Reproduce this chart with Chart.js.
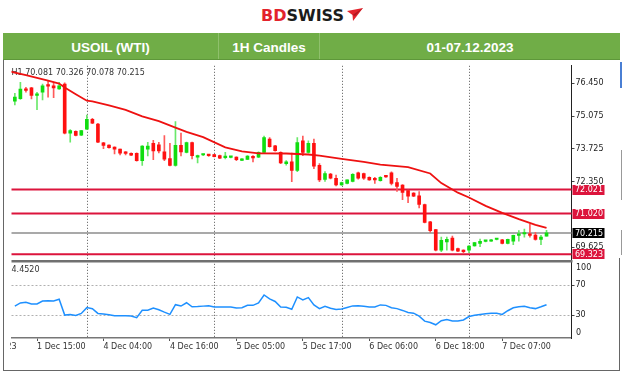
<!DOCTYPE html>
<html>
<head>
<meta charset="utf-8">
<script src="https://cdn.jsdelivr.net/npm/chart.js@4.4.1/dist/chart.umd.min.js"></script>
<style>
  html, body { margin: 0; padding: 0; background: #fff; }
  body { width: 624px; height: 372px; position: relative; overflow: hidden; font-family: "Liberation Sans", Arial, sans-serif; }
  #logo { position: absolute; left: 261px; top: 6px; height: 19px; line-height: 19px; font: bold 16px "DejaVu Sans", sans-serif; white-space: nowrap; }
  #logo .bd { color: #e3232c; }
  #logo .sw { color: #1b1b1b; }
  #logo svg { position: absolute; left: 86px; top: 2px; }
  #bar { position: absolute; left: 3px; top: 33px; width: 617px; height: 26px; background: #70ad47; border-bottom: 1px solid #5e973a; }
  .cell { position: absolute; top: 0; height: 26px; padding-top: 2px; box-sizing: border-box; line-height: 26px; text-align: center; color: #fff; font-weight: bold; font-size: 13.5px; white-space: nowrap; }
  .mid { border-left: 1px solid #8fc06c; border-right: 1px solid #8fc06c; }
  #wrap { position: absolute; left: 10px; top: 60px; width: 614px; height: 300px; overflow: hidden; }
  #wrap canvas { position: absolute; left: -10px; top: 0; }
  .ln { position: absolute; background: #666; }
</style>
</head>
<body>
<div id="logo"><span class="bd">BD</span><span class="sw">SWISS</span><svg width="16" height="14" viewBox="0 0 16 14"><polygon points="0,3 16,0 6,13 5.5,7" fill="#e3232c"/><polygon points="5.5,7 16,0 8,8" fill="#b01820"/></svg></div>
<div id="bar">
  <div class="cell" style="left:0;width:215px">USOIL (WTI)</div>
  <div class="cell mid" style="left:215px;width:102px">1H Candles</div>
  <div class="cell" style="left:317px;width:300px">01-07.12.2023</div>
</div>
<div id="wrap"><canvas id="chart" width="624" height="300"></canvas></div>
<div class="ln" style="left:3px;top:60px;width:1px;height:311px"></div>
<div class="ln" style="left:3px;top:370px;width:617px;height:1px"></div>
<div class="ln" style="left:619px;top:258px;width:1px;height:113px"></div>
<div class="ln" style="left:620px;top:62px;width:2px;height:26px;background:#4a7fd4"></div>
<div class="ln" style="left:621px;top:150px;width:1px;height:50px;background:#999"></div>
<div class="ln" style="left:621px;top:230px;width:1px;height:25px;background:#999"></div>
<script>
// hourly bars, index 0 = 1 Dec 15:00
const firstBar = -4;
const openP = [75.70, 75.80, 76.19, 76.25, 75.94, 76.07, 76.39, 76.34, 76.21,
  76.41, 74.37, 74.44, 74.28, 74.53, 74.94, 74.75, 73.96, 73.87, 73.79,
  73.70, 73.59, 73.53, 73.53, 73.22, 73.70, 73.94, 73.88, 73.59, 73.31,
  73.02, 73.86, 73.57, 73.98, 73.37, 73.46, 73.44, 73.48, 73.43, 73.35,
  73.36, 73.37, 73.23, 73.27, 73.39, 73.37, 73.57, 74.12, 73.84, 73.57,
  73.10, 73.17, 72.82, 74.05, 73.57, 73.94, 73.03, 72.44, 72.66, 72.49,
  72.21, 72.28, 72.36, 72.72, 72.69, 72.53, 72.43, 72.39, 72.57, 72.72,
  72.31, 72.21, 71.98, 71.87, 71.76, 71.40, 70.68, 70.35, 69.50, 69.84,
  70.00, 69.56, 69.50, 69.50, 69.67, 69.78, 69.865, 69.87, 69.94, 69.93,
  69.78, 69.87, 70.11, 70.17, 70.17, 70.13, 69.95, 70.081];
const highP = [76.03, 76.48, 76.27, 76.27, 76.07, 76.41, 76.57, 76.48, 76.48,
  76.46, 74.52, 74.46, 74.49, 75.12, 74.98, 74.78, 73.99, 73.88, 73.80,
  73.71, 73.60, 73.55, 73.55, 73.85, 73.99, 74.07, 73.99, 74.27, 73.94,
  74.85, 74.37, 74.00, 74.00, 73.45, 73.50, 73.47, 73.49, 73.45, 73.57,
  73.40, 73.38, 73.31, 73.43, 73.43, 73.59, 74.25, 74.18, 73.86, 73.59,
  73.23, 73.54, 74.18, 74.25, 74.05, 74.12, 73.10, 72.77, 72.70, 72.62,
  72.33, 72.43, 72.68, 72.75, 72.71, 72.55, 72.53, 72.56, 72.60, 72.76,
  72.49, 72.23, 72.00, 71.89, 71.94, 71.42, 70.70, 70.37, 70.04, 70.04,
  70.08, 69.58, 69.51, 69.69, 69.82, 69.96, 69.90, 69.95, 69.97, 69.95,
  69.96, 70.13, 70.31, 70.38, 70.58, 70.24, 70.12, 70.326];
const lowP = [75.54, 75.77, 76.07, 75.79, 75.34, 75.75, 75.87, 75.84, 76.19,
  74.34, 73.99, 74.25, 74.26, 74.52, 74.76, 73.97, 73.72, 73.74, 73.50,
  73.46, 73.46, 73.43, 73.20, 73.02, 73.42, 73.26, 73.54, 73.22, 73.00,
  72.99, 73.42, 73.55, 73.30, 73.13, 73.43, 73.40, 73.38, 73.31, 73.30,
  73.34, 73.22, 73.22, 73.26, 73.17, 73.35, 73.53, 73.78, 73.62, 73.10,
  73.03, 72.35, 72.76, 73.43, 73.53, 72.89, 72.35, 72.36, 72.46, 72.17,
  72.19, 72.26, 72.34, 72.45, 72.44, 72.40, 72.28, 72.37, 72.53, 72.21,
  71.94, 71.60, 71.47, 71.72, 71.26, 70.63, 70.24, 69.47, 69.43, 69.50,
  69.47, 69.44, 69.36, 69.39, 69.66, 69.64, 69.84, 69.86, 69.92, 69.76,
  69.76, 69.73, 69.87, 70.04, 70.04, 69.91, 69.73, 70.078];
const closeP = [75.87, 76.20, 76.15, 75.94, 76.00, 76.34, 76.32, 76.25, 76.34,
  74.37, 74.47, 74.27, 74.47, 74.94, 74.78, 73.99, 73.86, 73.76, 73.70,
  73.53, 73.52, 73.45, 73.22, 73.83, 73.83, 73.63, 73.63, 73.29, 73.02,
  73.86, 73.59, 73.98, 73.43, 73.43, 73.47, 73.43, 73.39, 73.33, 73.41,
  73.37, 73.26, 73.30, 73.41, 73.34, 73.57, 74.18, 73.80, 73.64, 73.13,
  73.17, 72.82, 73.98, 73.57, 73.94, 72.99, 72.42, 72.69, 72.49, 72.21,
  72.31, 72.42, 72.65, 72.49, 72.49, 72.42, 72.42, 72.53, 72.55, 72.28,
  72.15, 71.90, 71.74, 71.74, 71.40, 70.65, 70.31, 69.50, 69.91, 69.95,
  69.50, 69.46, 69.43, 69.67, 69.81, 69.87, 69.875, 69.93, 69.95, 69.78,
  69.95, 70.11, 70.17, 70.18, 70.11, 69.95, 70.04, 70.215];

// moving average, read at these bars
const maBars = [-5, -2, 2, 4, 5, 7, 9, 10, 13, 16, 19, 22, 25, 27, 30, 34, 37, 40, 45, 49, 51, 55, 59, 62, 67, 71, 73, 76, 78, 81, 84, 87, 90, 92];
const maValues = [76.94, 76.78, 76.55, 76.43, 76.27, 75.99, 75.72, 75.69, 75.52, 75.34, 75.07, 74.87, 74.60, 74.42, 74.20, 73.78, 73.61, 73.53, 73.52, 73.48, 73.43, 73.30, 73.17, 73.06, 72.95, 72.69, 72.29, 71.89, 71.69, 71.34, 71.05, 70.79, 70.55, 70.43];

const rsiValues = [42.3, 46.5, 47.5, 45.2, 45.2, 49.1, 49.4, 49.1, 51.4,
  30.4, 31.3, 30.0, 32.6, 40.3, 38.8, 32.6, 31.7, 30.8, 29.5,
  29.5, 29.5, 29.1, 26.9, 36.8, 36.8, 39.8, 37.5, 34.3, 31.3,
  44.2, 42.4, 46.8, 41.4, 41.7, 42.3, 42.9, 41.1, 41.1, 41.1,
  41.1, 39.8, 40.1, 43.3, 43.3, 46.5, 57.1, 51.9, 48.5, 41.1,
  40.7, 38.1, 54.5, 50.6, 53.6, 43.9, 39.0, 42.0, 39.4, 37.7,
  38.4, 40.5, 42.6, 42.9, 42.0, 41.1, 41.1, 43.9, 43.3, 40.1,
  39.0, 36.6, 33.9, 33.0, 29.1, 22.4, 20.5, 17.5, 23.0, 24.6,
  22.6, 22.6, 23.9, 28.5, 30.1, 31.3, 32.1, 33.0, 32.7, 31.3,
  36.2, 40.1, 41.4, 42.0, 40.1, 39.0, 41.4, 44.2];

const tickBars = [-12, 0, 12, 24, 36, 48, 60, 72, 84];
const tickLabels = ['1 Dec 2023', '1 Dec 15:00', '4 Dec 04:00', '4 Dec 16:00', '5 Dec 05:00', '5 Dec 17:00', '6 Dec 06:00', '6 Dec 18:00', '7 Dec 07:00'];
const daySepBars = [9, 32, 55, 78];
const priceTicks = [69.625, 72.350, 73.725, 75.075, 76.450];
const rsiTicks = [30, 70];
const levels = [72.021, 71.020, 69.323];
const bidPrice = 70.215;
const infoText = 'H1 70.081 70.326 70.078 70.215';
const rsiText = '4.4520';

const RED = '#ff1010', GREEN = '#10dd10';
const bars = openP.map((o, k) => firstBar + k);
const up = openP.map((o, k) => closeP[k] >= o);
const bodies = bars.map((b, k) => ({ x: b, y: [openP[k], closeP[k]] }));
const wicks = bars.map((b, k) => ({ x: b, y: [lowP[k], highP[k]] }));
const maLine = maBars.map((b, k) => ({ x: b, y: maValues[k] }));
const rsiLine = bars.map((b, k) => ({ x: b, y: rsiValues[k] }));

const FONT = { family: 'DejaVu Sans', size: 8 };

const decor = {
  id: 'decor',
  beforeDatasetsDraw(chart) {
    const { ctx, chartArea: a, scales: { x, y, y2 } } = chart;
    ctx.save();
    ctx.strokeStyle = '#555';
    ctx.lineWidth = 1;
    ctx.setLineDash([1, 2]);
    daySepBars.forEach(b => {
      const px = Math.round(x.getPixelForValue(b)) + 0.5;
      ctx.beginPath(); ctx.moveTo(px, a.top); ctx.lineTo(px, a.bottom); ctx.stroke();
    });
    ctx.setLineDash([]);
    ctx.strokeStyle = '#dc143c';
    ctx.lineWidth = 2;
    levels.forEach(v => {
      const py = y.getPixelForValue(v);
      ctx.beginPath(); ctx.moveTo(a.left, py); ctx.lineTo(a.right, py); ctx.stroke();
    });
    ctx.strokeStyle = '#8c8c8c';
    ctx.lineWidth = 1.5;
    const by = y.getPixelForValue(bidPrice);
    ctx.beginPath(); ctx.moveTo(a.left, by); ctx.lineTo(a.right, by); ctx.stroke();
    ctx.fillStyle = '#333';
    ctx.font = '8px "DejaVu Sans"';
    ctx.textBaseline = 'middle';
    ctx.fillText(infoText, a.left, y.top + 7);
    ctx.fillText(rsiText, a.left, y2.top + 8.5);
    ctx.restore();
  },
  afterDraw(chart) {
    const { ctx, chartArea: a, scales: { y, y2 } } = chart;
    ctx.save();
    ctx.strokeStyle = '#707070';
    ctx.lineWidth = 2.5;
    ctx.beginPath(); ctx.moveTo(a.left, y.bottom); ctx.lineTo(a.right + 1, y.bottom); ctx.stroke();
    ctx.font = '8px "DejaVu Sans"';
    ctx.textBaseline = 'middle';
    const box = (v, bg) => {
      const py = y.getPixelForValue(v);
      ctx.fillStyle = bg;
      ctx.fillRect(y.left + 1, Math.round(py) - 5, 32, 10);
      ctx.fillStyle = '#fff';
      ctx.fillText(v.toFixed(3), y.left + 3.5, py + 0.5);
    };
    levels.forEach(v => box(v, '#dc143c'));
    box(bidPrice, '#000');
    ctx.fillStyle = '#222';
    ctx.fillText('100', y2.left + 4.5, y2.getPixelForValue(100) + 5.7);
    ctx.fillText('0', y2.left + 4.5, y2.getPixelForValue(0) - 4.7);
    ctx.restore();
  }
};

Chart.defaults.font.family = 'DejaVu Sans';

new Chart(document.getElementById('chart'), {
  type: 'bar',
  data: {
    datasets: [
      { type: 'line', data: maLine, yAxisID: 'y', borderColor: '#ee1111', borderWidth: 1.8, pointRadius: 0, spanGaps: true, order: 0 },
      { type: 'line', data: rsiLine, yAxisID: 'y2', borderColor: '#1e90ff', borderWidth: 1.5, pointRadius: 0, order: 0 },
      { type: 'bar', data: bodies, yAxisID: 'y', backgroundColor: up.map(u => u ? GREEN : RED), barThickness: 3, minBarLength: 1.5, grouped: false, order: 1 },
      { type: 'bar', data: wicks, yAxisID: 'y', backgroundColor: up.map(u => u ? '#6ae86a' : '#ff5a5a'), barThickness: 1, grouped: false, order: 2 }
    ]
  },
  options: {
    responsive: false,
    animation: false,
    events: [],
    devicePixelRatio: 1,
    layout: { padding: { left: 11.5, top: 0, right: 0, bottom: 0 } },
    plugins: { legend: { display: false }, tooltip: { enabled: false } },
    scales: {
      x: {
        type: 'linear', min: -4.605, max: 96.51, offset: false,
        afterBuildTicks: s => { s.ticks = tickBars.map(v => ({ value: v })); },
        afterFit: s => { s.height = 22; s.paddingLeft = 0; s.paddingRight = 0; },
        ticks: { autoSkip: false, maxRotation: 0, align: 'start', padding: 1, color: '#333', font: FONT, callback: (v, k) => tickLabels[k] },
        grid: { drawOnChartArea: false, offset: false, tickLength: 3, color: '#555' },
        border: { color: '#777', width: 1.5 }
      },
      y: {
        position: 'right', stack: 'panes', stackWeight: 199.5,
        min: 69.041, max: 77.171,
        afterBuildTicks: s => { s.ticks = priceTicks.map(v => ({ value: v })); },
        afterFit: s => { s.width = 52.5; },
        ticks: { padding: 1, color: '#222', font: FONT, callback: v => v.toFixed(3) },
        grid: { drawOnChartArea: false, tickLength: 3, color: '#444' },
        border: { color: '#222', width: 1 }
      },
      y2: {
        position: 'right', stack: 'panes', stackWeight: 78.5,
        min: 0, max: 102,
        afterBuildTicks: s => { s.ticks = rsiTicks.map(v => ({ value: v })); },
        afterFit: s => { s.width = 52.5; },
        ticks: { padding: 1, color: '#222', font: FONT },
        grid: { drawOnChartArea: true, tickLength: 3, color: '#b0b0b0', tickColor: '#444' },
        border: { color: '#222', width: 1, dash: [2, 2] }
      }
    }
  },
  plugins: [decor]
});
</script>
</body>
</html>
